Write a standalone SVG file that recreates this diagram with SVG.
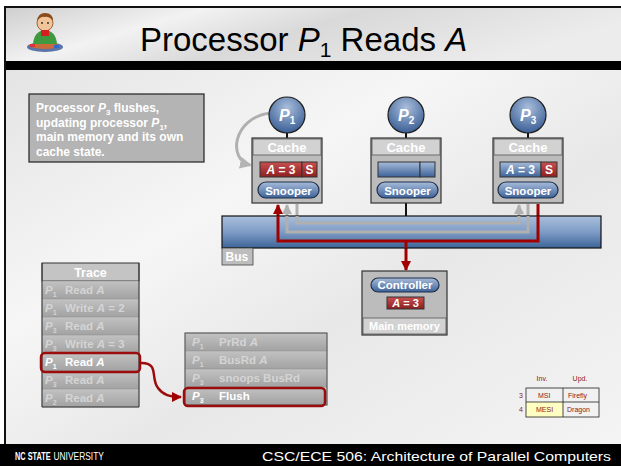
<svg xmlns="http://www.w3.org/2000/svg" width="621" height="466" viewBox="0 0 621 466">
  <defs>
    <linearGradient id="bgGrad" x1="0" y1="0" x2="1" y2="1">
      <stop offset="0" stop-color="#e4e4e4"/>
      <stop offset="0.35" stop-color="#f6f6f6"/>
      <stop offset="0.6" stop-color="#e8e8e8"/>
      <stop offset="1" stop-color="#f4f4f4"/>
    </linearGradient>
    <linearGradient id="titleGrad" x1="0" y1="0" x2="1" y2="0.3">
      <stop offset="0" stop-color="#cfcfcf"/>
      <stop offset="0.3" stop-color="#f2f2f2"/>
      <stop offset="0.55" stop-color="#d9d9d9"/>
      <stop offset="1" stop-color="#ececec"/>
    </linearGradient>
    <radialGradient id="procGrad" cx="0.5" cy="0.3" r="0.7">
      <stop offset="0" stop-color="#a9bedc"/>
      <stop offset="1" stop-color="#3b5f95"/>
    </radialGradient>
    <linearGradient id="pillGrad" x1="0" y1="0" x2="0" y2="1">
      <stop offset="0" stop-color="#a7bcda"/>
      <stop offset="1" stop-color="#3d6299"/>
    </linearGradient>
    <linearGradient id="redGrad" x1="0" y1="0" x2="0" y2="1">
      <stop offset="0" stop-color="#c85050"/>
      <stop offset="1" stop-color="#8c2020"/>
    </linearGradient>
    <linearGradient id="busGrad" x1="0" y1="0" x2="0" y2="1">
      <stop offset="0" stop-color="#a9bfdc"/>
      <stop offset="0.5" stop-color="#7e9cc5"/>
      <stop offset="1" stop-color="#3c6498"/>
    </linearGradient>
    <linearGradient id="rowGrad" x1="0" y1="0" x2="0" y2="1">
      <stop offset="0" stop-color="#c2c2c2"/>
      <stop offset="1" stop-color="#a2a2a2"/>
    </linearGradient>
    <marker id="redHead" markerWidth="10" markerHeight="10" refX="9" refY="5" orient="auto" markerUnits="userSpaceOnUse">
      <path d="M0,0 L10,5 L0,10 z" fill="#a00000"/>
    </marker>
    <marker id="grayHead" markerWidth="10" markerHeight="10" refX="9" refY="5" orient="auto" markerUnits="userSpaceOnUse">
      <path d="M0,0 L10,5 L0,10 z" fill="#b0b0b0"/>
    </marker>
    <marker id="arcHead" markerWidth="12" markerHeight="12" refX="10" refY="6" orient="auto" markerUnits="userSpaceOnUse">
      <path d="M0,0 L12,6 L0,12 z" fill="#b4b4b4"/>
    </marker>
  </defs>
  <style>
    text { font-family: "Liberation Sans", Arial, sans-serif; }
    .w { fill: #ffffff; font-weight: bold; }
    .proc { fill: url(#procGrad); stroke: #1e1e1e; stroke-width: 1.2; }
    .cache { fill: #bcbcbc; stroke: #333; stroke-width: 1.2; }
    .cachehead { fill: #d2d2d2; stroke: #555; stroke-width: 0.8; }
    .pill { fill: url(#pillGrad); stroke: #1e2e48; stroke-width: 1.2; }
    .redbox { fill: url(#redGrad); stroke: #333; stroke-width: 1; }
    .bluebox { fill: url(#pillGrad); stroke: #333; stroke-width: 1; }
    .row { fill: url(#rowGrad); stroke: #999; stroke-width: 0.6; }
    .faded { fill: #d4d4d4; font-weight: bold; font-size: 11.5px; }
    .hl { fill: none; stroke: #9b0c0c; stroke-width: 2.5; }
    .redln { fill: none; stroke: #a00000; stroke-width: 3; }
    .grayln { fill: none; stroke: #b0b0b0; stroke-width: 3; }
    .stem { stroke: #111; stroke-width: 2; }
    .small { font-size: 7px; }
    .plabel { fill: #ffffff; font-weight: bold; font-size: 16px; font-style: italic; }
  </style>

  <!-- slide frame -->
  <rect x="0" y="0" width="621" height="466" fill="#ffffff"/>
  <rect x="5" y="70" width="616" height="376" fill="url(#bgGrad)"/>
  <rect x="5" y="8" width="616" height="54" fill="url(#titleGrad)"/>
  <rect x="5" y="61" width="616" height="9" fill="#000"/>
  <rect x="4" y="6" width="617" height="2" fill="#111"/>
  <rect x="4" y="6" width="2" height="440" fill="#111"/>
  <rect x="0" y="444" width="621" height="22" fill="#000"/>

  <!-- mascot -->
  <g id="mascot">
    <ellipse cx="45" cy="47" rx="18" ry="5" fill="#5a74a8"/>
    <ellipse cx="45" cy="46" rx="14" ry="3" fill="#c86a3a"/>
    <path d="M33,44 Q34,31 45,30 Q56,31 57,44 Z" fill="#3f9a3f"/>
    <circle cx="45" cy="23" r="8" fill="#f2c49a" stroke="#8a4a1a" stroke-width="0.8"/>
    <path d="M37,21 Q38,13 45,13 Q53,13 53,21 Q49,16 45,17 Q41,16 37,21 Z" fill="#8a4a1a"/>
    <rect x="41" y="30" width="8" height="6" fill="#d42020"/>
    <circle cx="42" cy="23" r="0.9" fill="#222"/>
    <circle cx="48" cy="23" r="0.9" fill="#222"/>
    <rect x="30" y="44" width="5" height="3" fill="#d33"/>
    <rect x="54" y="45" width="5" height="3" fill="#36c"/>
  </g>

  <!-- title -->
  <text x="140" y="51" font-size="33" fill="#000">Processor <tspan font-style="italic">P</tspan><tspan font-size="21" dy="6">1</tspan><tspan dy="-6"> Reads </tspan><tspan font-style="italic">A</tspan></text>

  <!-- note -->
  <g id="note">
    <rect x="29" y="94" width="175" height="68" fill="#b4b4b4" stroke="#222" stroke-width="1.2"/>
    <text class="w" font-size="12" x="36" y="112">Processor <tspan font-style="italic">P</tspan><tspan font-size="8" dy="3">3</tspan><tspan dy="-3"> flushes,</tspan></text>
    <text class="w" font-size="12" x="36" y="126.5">updating processor <tspan font-style="italic">P</tspan><tspan font-size="8" dy="3">1</tspan><tspan dy="-3">,</tspan></text>
    <text class="w" font-size="12" x="36" y="141">main memory and its own</text>
    <text class="w" font-size="12" x="36" y="155.5">cache state.</text>
  </g>

  <!-- connectors -->
  <g id="connectors">
    <line class="stem" x1="287" y1="133" x2="287" y2="138"/>
    <line class="stem" x1="406" y1="133" x2="406" y2="138"/>
    <line class="stem" x1="528" y1="133" x2="528" y2="138"/>
    <line class="stem" x1="406" y1="203" x2="406" y2="216"/>
    <path class="grayln" d="M270,113 C232,118 228,160 250,165" stroke-width="4" stroke="#b4b4b4" marker-end="url(#arcHead)"/>
    <path class="grayln" d="M297,204 V223 H519 V205" marker-end="url(#grayHead)"/>
    <path class="grayln" d="M528,204 V232 H287 V205" marker-end="url(#grayHead)"/>
    <path class="redln" d="M538,204 V241 H278 V205" marker-end="url(#redHead)"/>
    <path class="redln" d="M406,241 V270" marker-end="url(#redHead)"/>
  </g>

  <!-- bus -->
  <g id="bus">
    <rect x="222" y="216" width="379" height="32" fill="url(#busGrad)" stroke="#111" stroke-width="1.2"/>
    <rect x="222" y="248" width="31" height="17" fill="#bdbdbd" stroke="#444" stroke-width="0.8"/>
    <text class="w" font-size="12" x="225.5" y="261">Bus</text>
  </g>

  <!-- bus paths drawn again over the bus body -->
  <g id="bus-paths">
    <path class="grayln" d="M297,216 V223 H519 V216"/>
    <path class="grayln" d="M528,216 V232 H287 V216"/>
    <path class="redln" d="M538,216 V241 H278 V216"/>
    <path class="redln" d="M406,241 V248"/>
  </g>

  <!-- processors -->
  <g id="p1">
    <circle class="proc" cx="287" cy="115" r="18"/>
    <text class="plabel" x="279" y="121">P<tspan font-size="10" dy="3" font-style="normal">1</tspan></text>
    <rect class="cache" x="252" y="138" width="70" height="65"/>
    <rect class="cachehead" x="253" y="139" width="68" height="16"/>
    <text class="w" font-size="13" x="287" y="152" text-anchor="middle">Cache</text>
    <rect class="redbox" x="260" y="162" width="42" height="15"/>
    <rect class="redbox" x="302" y="162" width="15" height="15"/>
    <text class="w" font-size="12" x="281" y="174" text-anchor="middle"><tspan font-style="italic">A</tspan> = 3</text>
    <text class="w" font-size="12" x="309.5" y="174" text-anchor="middle">S</text>
    <rect class="pill" x="258" y="182" width="61" height="16" rx="8"/>
    <text class="w" font-size="11.5" x="288.5" y="194.5" text-anchor="middle">Snooper</text>
  </g>
  <g id="p2">
    <circle class="proc" cx="406" cy="115" r="18"/>
    <text class="plabel" x="398" y="121">P<tspan font-size="10" dy="3" font-style="normal">2</tspan></text>
    <rect class="cache" x="371" y="138" width="70" height="65"/>
    <rect class="cachehead" x="372" y="139" width="68" height="16"/>
    <text class="w" font-size="13" x="406" y="152" text-anchor="middle">Cache</text>
    <rect class="bluebox" x="378" y="162" width="42" height="15"/>
    <rect class="bluebox" x="420" y="162" width="15" height="15"/>
    <rect class="pill" x="377" y="182" width="61" height="16" rx="8"/>
    <text class="w" font-size="11.5" x="407.5" y="194.5" text-anchor="middle">Snooper</text>
  </g>
  <g id="p3">
    <circle class="proc" cx="528" cy="115" r="18"/>
    <text class="plabel" x="520" y="121">P<tspan font-size="10" dy="3" font-style="normal">3</tspan></text>
    <rect class="cache" x="493" y="138" width="70" height="65"/>
    <rect class="cachehead" x="494" y="139" width="68" height="16"/>
    <text class="w" font-size="13" x="528" y="152" text-anchor="middle">Cache</text>
    <rect class="bluebox" x="500" y="162" width="41" height="15"/>
    <rect class="redbox" x="541" y="162" width="16" height="15"/>
    <text class="w" font-size="12" x="520.5" y="174" text-anchor="middle"><tspan font-style="italic">A</tspan> = 3</text>
    <text class="w" font-size="12" x="549" y="174" text-anchor="middle">S</text>
    <rect class="pill" x="498" y="182" width="60" height="16" rx="8"/>
    <text class="w" font-size="11.5" x="528" y="194.5" text-anchor="middle">Snooper</text>
  </g>

  <!-- main memory -->
  <g id="memory">
    <rect class="cache" x="362" y="271" width="85" height="64"/>
    <rect class="cachehead" x="363" y="318" width="83" height="16"/>
    <rect class="pill" x="371" y="278" width="68" height="14" rx="7"/>
    <text class="w" font-size="11.5" x="405" y="289" text-anchor="middle">Controller</text>
    <rect class="redbox" x="387" y="297" width="37" height="12"/>
    <text class="w" font-size="11" x="405.5" y="307" text-anchor="middle"><tspan font-style="italic">A</tspan> = 3</text>
    <text class="w" font-size="11" x="404.5" y="330" text-anchor="middle">Main memory</text>
  </g>

  <!-- trace table -->
  <g id="trace">
    <rect x="42" y="263" width="97" height="18" fill="#c4c4c4" stroke="#333" stroke-width="1"/>
    <text class="w" font-size="12.5" x="90.5" y="277" text-anchor="middle">Trace</text>
    <rect class="row" x="42" y="281" width="97" height="18"/>
    <rect class="row" x="42" y="299" width="97" height="18"/>
    <rect class="row" x="42" y="317" width="97" height="18"/>
    <rect class="row" x="42" y="335" width="97" height="18"/>
    <rect class="row" x="42" y="353" width="97" height="18"/>
    <rect class="row" x="42" y="371" width="97" height="18"/>
    <rect class="row" x="42" y="389" width="97" height="18"/>
    <line x1="42" y1="263" x2="42" y2="407" stroke="#333" stroke-width="1"/>
    <line x1="139" y1="263" x2="139" y2="407" stroke="#333" stroke-width="1"/>
    <line x1="42" y1="407" x2="139" y2="407" stroke="#333" stroke-width="1"/>
    <text class="faded" x="45" y="294"><tspan font-style="italic">P</tspan><tspan font-size="7" dy="3">1</tspan><tspan x="65" dy="-3">Read <tspan font-style="italic">A</tspan></tspan></text>
    <text class="faded" x="45" y="312"><tspan font-style="italic">P</tspan><tspan font-size="7" dy="3">1</tspan><tspan x="65" dy="-3">Write <tspan font-style="italic">A</tspan> = 2</tspan></text>
    <text class="faded" x="45" y="330"><tspan font-style="italic">P</tspan><tspan font-size="7" dy="3">3</tspan><tspan x="65" dy="-3">Read <tspan font-style="italic">A</tspan></tspan></text>
    <text class="faded" x="45" y="348"><tspan font-style="italic">P</tspan><tspan font-size="7" dy="3">3</tspan><tspan x="65" dy="-3">Write <tspan font-style="italic">A</tspan> = 3</tspan></text>
    <text class="w" font-size="11.5" x="45" y="366"><tspan font-style="italic">P</tspan><tspan font-size="7" dy="3">1</tspan><tspan x="65" dy="-3">Read <tspan font-style="italic">A</tspan></tspan></text>
    <text class="faded" x="45" y="384"><tspan font-style="italic">P</tspan><tspan font-size="7" dy="3">3</tspan><tspan x="65" dy="-3">Read <tspan font-style="italic">A</tspan></tspan></text>
    <text class="faded" x="45" y="402"><tspan font-style="italic">P</tspan><tspan font-size="7" dy="3">2</tspan><tspan x="65" dy="-3">Read <tspan font-style="italic">A</tspan></tspan></text>
    <rect class="hl" x="41" y="353" width="99" height="19" rx="4"/>
  </g>

  <!-- bus actions table -->
  <g id="actions">
    <rect class="row" x="185" y="333" width="142" height="18"/>
    <rect class="row" x="185" y="351" width="142" height="18"/>
    <rect class="row" x="185" y="369" width="142" height="18"/>
    <rect class="row" x="185" y="387" width="142" height="18"/>
    <rect x="185" y="333" width="142" height="72" fill="none" stroke="#555" stroke-width="1"/>
    <text class="faded" font-size="11" x="192" y="346"><tspan font-style="italic">P</tspan><tspan font-size="7" dy="3">1</tspan><tspan x="219" dy="-3">PrRd <tspan font-style="italic">A</tspan></tspan></text>
    <text class="faded" font-size="11" x="192" y="364"><tspan font-style="italic">P</tspan><tspan font-size="7" dy="3">1</tspan><tspan x="219" dy="-3">BusRd <tspan font-style="italic">A</tspan></tspan></text>
    <text class="faded" font-size="11" x="192" y="382"><tspan font-style="italic">P</tspan><tspan font-size="7" dy="3">3</tspan><tspan x="219" dy="-3">snoops BusRd</tspan></text>
    <text class="w" font-size="11.5" x="192" y="400"><tspan font-style="italic">P</tspan><tspan font-size="7" dy="3">3</tspan><tspan x="219" dy="-3">Flush</tspan></text>
    <rect class="hl" x="184" y="388" width="141" height="18" rx="4"/>
  </g>

  <!-- trace-to-action link -->
  <g id="link">
    <path class="hl" d="M140,363 C160,362 150,378 158,388 C163,395 170,397 181,397" marker-end="url(#redHead)"/>
  </g>

  <!-- protocol table -->
  <g id="protocols">
    <text class="small" x="542" y="381" fill="#8a1a1a" text-anchor="middle">Inv.</text>
    <text class="small" x="580" y="381" fill="#8a1a1a" text-anchor="middle">Upd.</text>
    <rect x="526" y="402" width="37" height="15" fill="#ffffc4"/>
    <rect x="526" y="388" width="73" height="29" fill="none" stroke="#222" stroke-width="0.8"/>
    <line x1="563" y1="388" x2="563" y2="417" stroke="#222" stroke-width="0.8"/>
    <line x1="526" y1="402" x2="599" y2="402" stroke="#222" stroke-width="0.8"/>
    <text class="small" x="521" y="398" fill="#8a1a1a" text-anchor="middle">3</text>
    <text class="small" x="521" y="412" fill="#8a1a1a" text-anchor="middle">4</text>
    <text class="small" x="538" y="398" fill="#8a1a1a">MSI</text>
    <text class="small" x="536" y="412" fill="#8a1a1a">MESI</text>
    <text class="small" x="568" y="398" fill="#8a1a1a">Firefly</text>
    <text class="small" x="567" y="412" fill="#8a1a1a">Dragon</text>
  </g>

  <!-- footer (university wordmark in a narrow face, course name) -->
  <text transform="translate(15,460) scale(0.7,1)" font-size="10.5" font-weight="bold" fill="#fff">NC STATE</text>
  <text transform="translate(53.5,460) scale(0.8,1)" font-size="10.5" fill="#fff">UNIVERSITY</text>
  <text x="262" y="461" font-size="13" fill="#fff" textLength="349" lengthAdjust="spacingAndGlyphs">CSC/ECE 506: Architecture of Parallel Computers</text>
</svg>
